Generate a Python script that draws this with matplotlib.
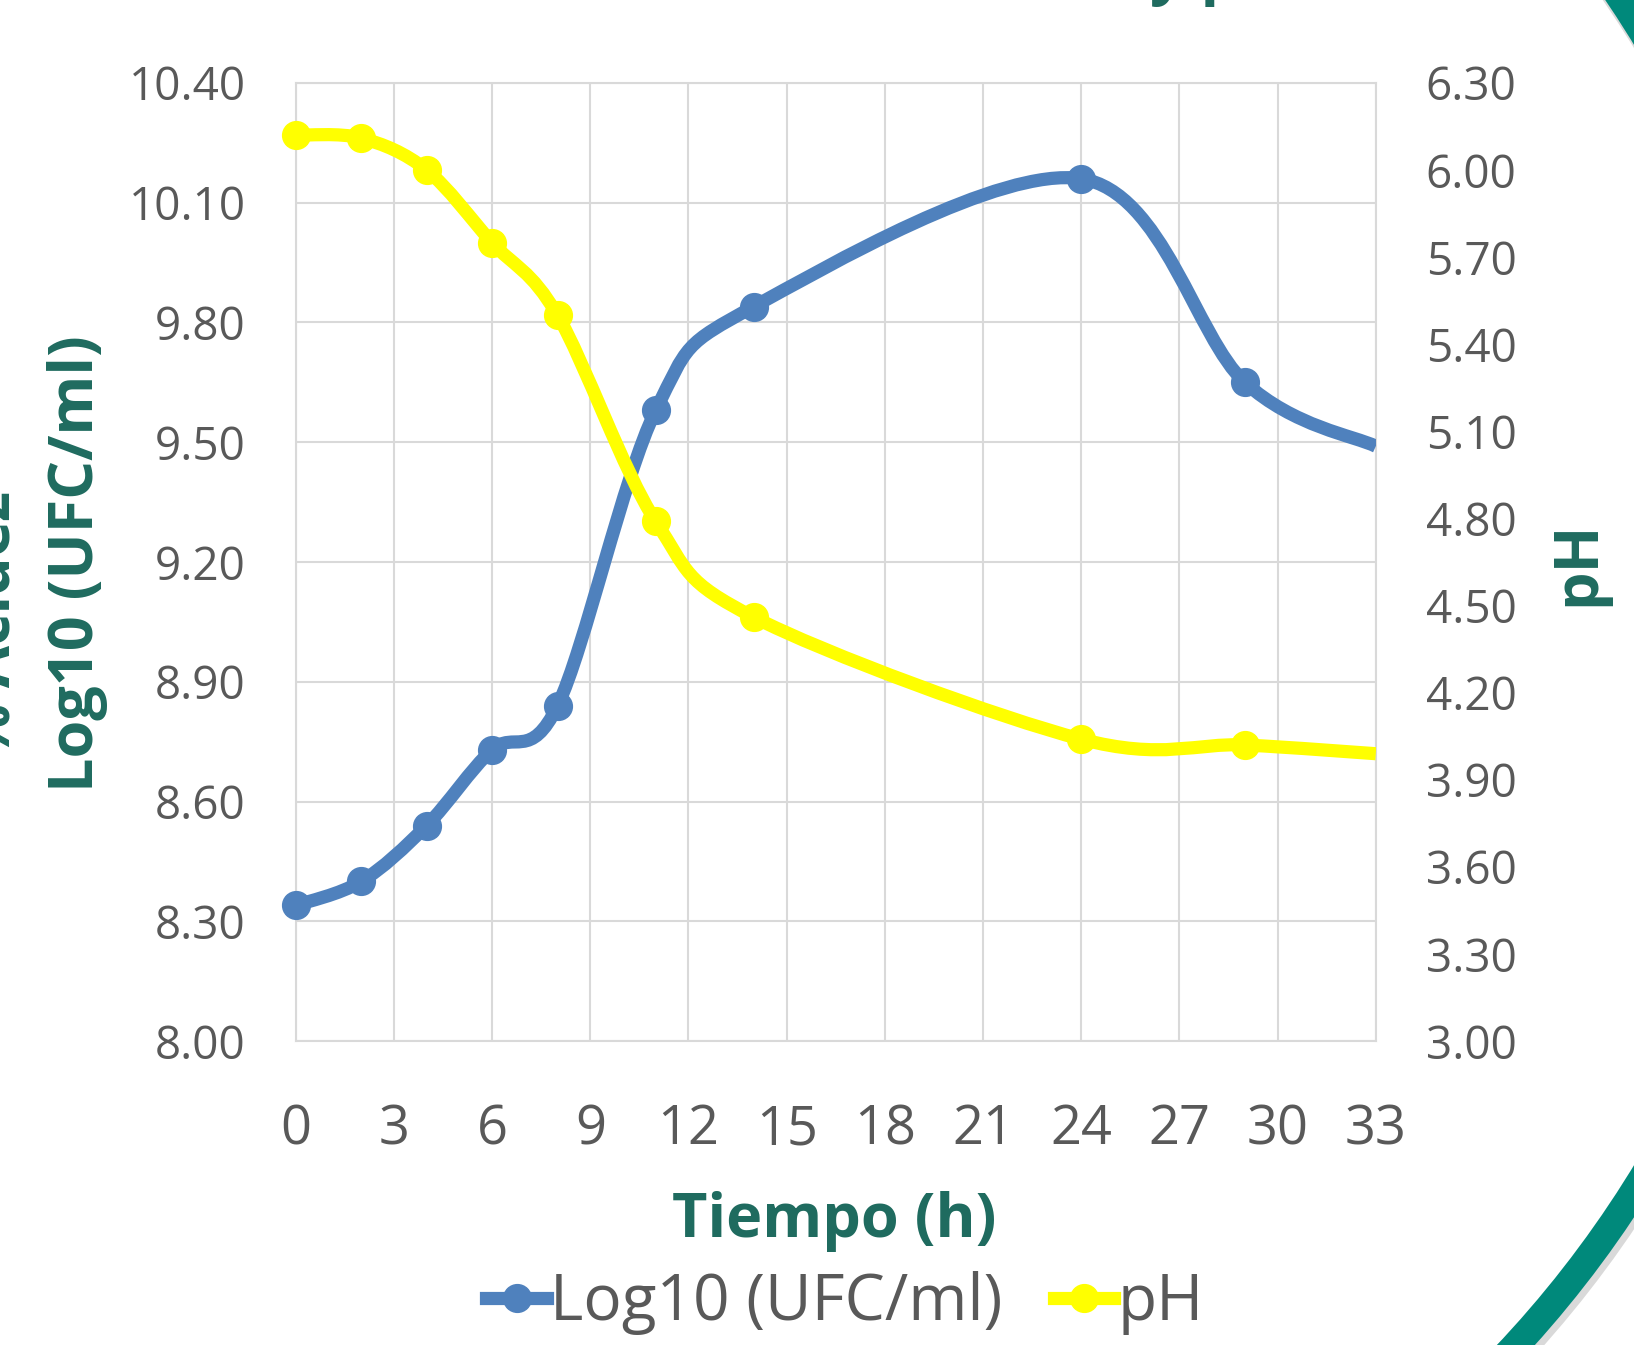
import numpy as np
import matplotlib
matplotlib.use("Agg")
import matplotlib.pyplot as plt
from matplotlib.path import Path
from matplotlib.patches import PathPatch, Wedge
from matplotlib.lines import Line2D
from matplotlib.transforms import IdentityTransform

plt.rcParams['font.family'] = ['Open Sans', 'DejaVu Sans']

# data (last point = where the line leaves the plot at 33 h)
hours = [0, 2, 4, 6, 8, 11, 14, 24, 29, 33]
log_ufc = [8.34, 8.40, 8.54, 8.73, 8.84, 9.58, 9.84, 10.16, 9.65, 9.49]
ph = [6.12, 6.11, 6.00, 5.75, 5.50, 4.79, 4.46, 4.04, 4.02, 3.99]

x_ticks = [0, 3, 6, 9, 12, 15, 18, 21, 24, 27, 30, 33]
left_ticks = [8.00, 8.30, 8.60, 8.90, 9.20, 9.50, 9.80, 10.10, 10.40]
right_ticks = [3.00, 3.30, 3.60, 3.90, 4.20, 4.50, 4.80, 5.10, 5.40, 5.70, 6.00, 6.30]

BLUE = '#4F81BD'
YELLOW = '#FFFF00'
TEAL = '#1F6B5F'
GREY = '#595959'
GRID = '#D9D9D9'


def smooth_path(xs, ys):
    # excel-like smoothed line: catmull-rom segments as cubic beziers
    pts = np.column_stack([xs, ys]).astype(float)
    n = len(pts)
    verts = [pts[0]]
    codes = [Path.MOVETO]
    for i in range(n - 1):
        p0 = pts[i - 1] if i > 0 else pts[i]
        p1, p2 = pts[i], pts[i + 1]
        p3 = pts[i + 2] if i + 2 < n else pts[i + 1]
        verts += [p1 + (p2 - p0) / 6, p2 - (p3 - p1) / 6, p2]
        codes += [Path.CURVE4] * 3
    return Path(verts, codes)


W, H = 1634, 1345
fig = plt.figure(figsize=(W / 100, H / 100), dpi=100)

left, right, top, bottom = 295.7, 1375.8, 82.9, 1041.2
ax = fig.add_axes([left / W, 1 - bottom / H, (right - left) / W, (bottom - top) / H])
ax2 = ax.twinx()

ax.set_xlim(0, 33)
ax.set_ylim(8.0, 10.4)
ax2.set_ylim(3.0, 6.3)

ax.set_xticks(x_ticks)
ax.set_yticks(left_ticks)
ax.set_yticklabels([f"{v:.2f}" for v in left_ticks])
ax2.set_yticks(right_ticks)
ax2.set_yticklabels([f"{v:.2f}" for v in right_ticks])

ax.grid(True, color=GRID, lw=1.5)
ax.set_axisbelow(True)
for s in ax.spines.values():
    s.set_color(GRID)
    s.set_linewidth(1.5)
for s in ax2.spines.values():
    s.set_visible(False)

ax.tick_params(axis='both', length=0, labelcolor=GREY)
ax.tick_params(axis='y', pad=36, labelsize=33)
ax.tick_params(axis='x', pad=44, labelsize=39)
ax2.tick_params(axis='y', length=0, labelsize=33, labelcolor=GREY, pad=36)

# Log10 series
ax.add_patch(PathPatch(smooth_path(hours, log_ufc), fill=False, edgecolor=BLUE,
                       lw=9.5, capstyle='butt', joinstyle='round', zorder=3))
ax.plot(hours, log_ufc, ls='none', marker='o', ms=20, color=BLUE,
        markevery=list(range(len(hours) - 1)), zorder=4, clip_on=False)

# pH series
ax2.add_patch(PathPatch(smooth_path(hours, ph), fill=False, edgecolor=YELLOW,
                        lw=9.5, capstyle='butt', joinstyle='round', zorder=3))
ax2.plot(hours, ph, ls='none', marker='o', ms=20, color=YELLOW,
         markevery=list(range(len(hours) - 1)), zorder=4, clip_on=False)

# axis titles
fig.text(78 / W, 1 - 564 / H, "Log10 (UFC/ml)", rotation=90, ha='center', va='center',
         fontsize=44, fontweight='bold', color=TEAL)
fig.text(1579 / W, 1 - 563 / H, "pH", rotation=90, ha='center', va='center',
         fontsize=44, fontweight='bold', color=TEAL)
fig.text(834 / W, 1 - 1221 / H, "Tiempo (h)", ha='center', va='center',
         fontsize=44, fontweight='bold', color=TEAL)

# bits of slide text cut off by the crop
fig.text(10 / W, 1 - 624 / H, "% Acidez", rotation=90, rotation_mode='anchor',
         ha='center', va='baseline', fontsize=44, fontweight='bold', color=TEAL)
fig.text(1150 / W, 1 + 8 / H, "y pH", ha='left', va='baseline',
         fontsize=44, fontweight='bold', color=TEAL)

# legend
handles = [Line2D([], [], color=BLUE, lw=9.5, marker='o', ms=20),
           Line2D([], [], color=YELLOW, lw=9.5, marker='o', ms=20)]
fig.legend(handles, ["Log10 (UFC/ml)", "pH"], loc='center', bbox_to_anchor=(845 / W, 1 - 1303 / H),
           ncol=2, frameon=False, fontsize=46, handlelength=0.95, handletextpad=0.05,
           columnspacing=0.8, labelcolor=GREY)

# decorative teal ring of the slide
cx, cy, r = 713, H - 605, 1106
fig.add_artist(Wedge((cx + 4, cy - 6), r, 0, 360, width=30, facecolor='#000000', alpha=0.15,
                     edgecolor='none', transform=IdentityTransform()))
fig.add_artist(Wedge((cx, cy), r, 0, 360, width=28, facecolor='#00897B', edgecolor='none',
                     transform=IdentityTransform()))

fig.savefig("out.png", dpi=100)
